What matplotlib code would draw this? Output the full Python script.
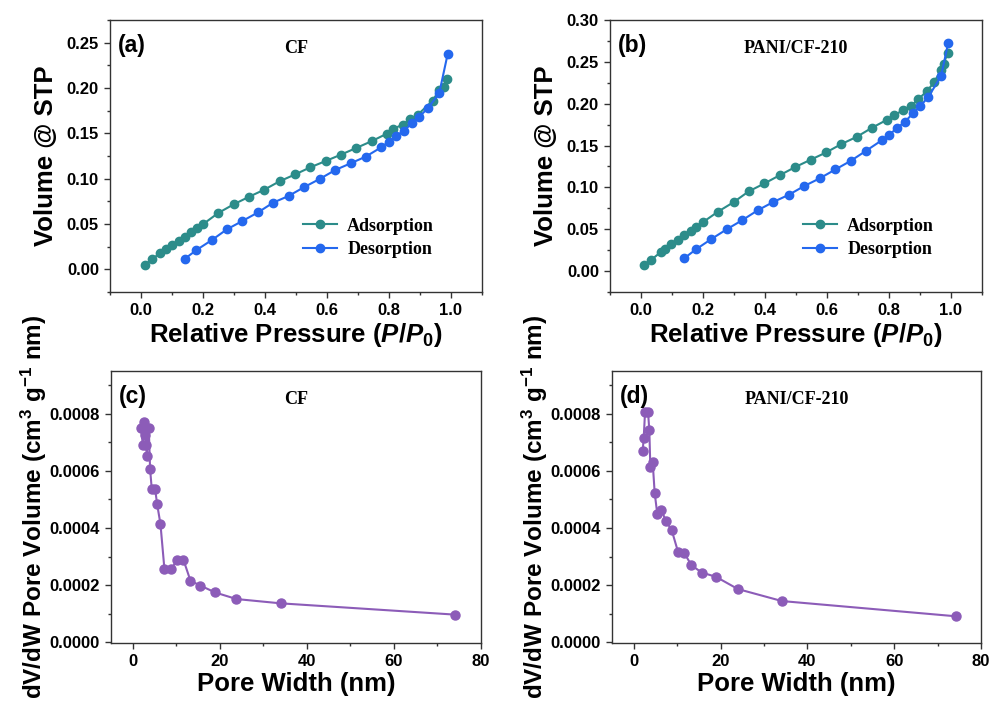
import matplotlib
matplotlib.use('Agg')
import matplotlib.pyplot as plt
from matplotlib.ticker import MultipleLocator

plt.rcParams['font.family'] = 'Liberation Sans'
plt.rcParams['font.weight'] = 'bold'
plt.rcParams['mathtext.fontset'] = 'custom'
plt.rcParams['mathtext.rm'] = 'Liberation Sans:bold'
plt.rcParams['mathtext.it'] = 'Liberation Sans:italic:bold'
plt.rcParams['mathtext.bf'] = 'Liberation Sans:bold'

# (a) CF isotherm
cf_ads_p = [0.013, 0.036, 0.061, 0.082, 0.101, 0.121, 0.142, 0.161, 0.180, 0.201,
            0.249, 0.299, 0.349, 0.398, 0.447, 0.498, 0.546, 0.596, 0.645, 0.694,
            0.745, 0.793, 0.813, 0.844, 0.868, 0.893, 0.941, 0.962, 0.976, 0.987]
cf_ads_v = [0.0048, 0.0114, 0.0176, 0.0221, 0.0265, 0.0313, 0.0357, 0.0408, 0.0460, 0.0500,
            0.0621, 0.0717, 0.0801, 0.0879, 0.0971, 0.1048, 0.1125, 0.1195, 0.1265, 0.1338,
            0.1415, 0.1496, 0.1548, 0.1596, 0.1654, 0.1706, 0.1860, 0.1978, 0.2015, 0.2103]
cf_des_p = [0.989, 0.962, 0.925, 0.898, 0.873, 0.848, 0.823, 0.799, 0.775, 0.725,
            0.676, 0.627, 0.576, 0.527, 0.476, 0.426, 0.378, 0.327, 0.277, 0.229,
            0.179, 0.142]
cf_des_v = [0.2371, 0.1941, 0.1776, 0.1684, 0.1610, 0.1526, 0.1474, 0.1408, 0.1346, 0.1243,
            0.1169, 0.1096, 0.0996, 0.0908, 0.0809, 0.0735, 0.0629, 0.0533, 0.0441, 0.0324,
            0.0213, 0.0118]

# (b) PANI/CF-210 isotherm
pani_ads_p = [0.010, 0.032, 0.065, 0.078, 0.097, 0.119, 0.139, 0.160, 0.179, 0.200,
              0.248, 0.299, 0.347, 0.398, 0.448, 0.497, 0.547, 0.597, 0.646, 0.696,
              0.745, 0.795, 0.817, 0.846, 0.872, 0.895, 0.922, 0.946, 0.968, 0.976, 0.989]
pani_ads_v = [0.0068, 0.0131, 0.0231, 0.0267, 0.0318, 0.0370, 0.0426, 0.0478, 0.0529, 0.0585,
              0.0709, 0.0824, 0.0951, 0.1047, 0.1146, 0.1242, 0.1330, 0.1417, 0.1517, 0.1604,
              0.1712, 0.1811, 0.1859, 0.1927, 0.1978, 0.2054, 0.2150, 0.2257, 0.2408, 0.2476, 0.2600]
pani_des_p = [0.991, 0.968, 0.927, 0.901, 0.877, 0.852, 0.826, 0.800, 0.776, 0.726,
              0.677, 0.627, 0.576, 0.526, 0.477, 0.426, 0.376, 0.327, 0.276, 0.225,
              0.177, 0.139]
pani_des_v = [0.2727, 0.2329, 0.2082, 0.1971, 0.1883, 0.1787, 0.1708, 0.1628, 0.1561, 0.1437,
              0.1318, 0.1214, 0.1107, 0.1015, 0.0912, 0.0824, 0.0725, 0.0609, 0.0498, 0.0378,
              0.0259, 0.0151]

# (c) CF pore size distribution
cf_w = [1.92, 2.30, 2.61, 2.75, 2.91, 3.07, 3.22, 3.68, 3.98, 4.37, 5.13, 5.59, 6.36,
        7.28, 8.81, 10.19, 11.65, 13.26, 15.56, 18.93, 23.83, 33.95, 73.95]
cf_dv = [0.000751, 0.000691, 0.000771, 0.000725, 0.000742, 0.000692, 0.000653, 0.000751,
         0.000607, 0.000535, 0.000537, 0.000484, 0.000414, 0.000255, 0.000255, 0.000288,
         0.000288, 0.000215, 0.000198, 0.000174, 0.000151, 0.000136, 0.0000965]

# (d) PANI/CF-210 pore size distribution
pani_w = [2.07, 2.30, 2.61, 3.30, 3.60, 3.83, 4.37, 4.83, 5.44, 6.37, 7.36, 8.74, 10.2,
          11.66, 13.27, 15.64, 18.94, 24.0, 34.13, 74.16]
pani_dv = [0.000670, 0.000714, 0.000806, 0.000806, 0.000742, 0.000614, 0.000631, 0.000523,
           0.000448, 0.000464, 0.000426, 0.000393, 0.000317, 0.000312, 0.000270, 0.000244,
           0.000229, 0.000186, 0.000144, 0.0000907]

ads_color = '#2C8C8A'
des_color = '#2468EE'
psd_color = '#8C5CB8'

fig = plt.figure(figsize=(9.95, 7.11), dpi=100)
W, H = 995, 711


def make_ax(left, top, right, bottom):
    return fig.add_axes([left / W, 1 - bottom / H, (right - left) / W, (bottom - top) / H])


ax_a = make_ax(110, 20, 482, 292)
ax_b = make_ax(610, 20, 982, 292)
ax_c = make_ax(111, 371, 481, 643)
ax_d = make_ax(612, 371, 981, 643)


def style(ax):
    for sp in ax.spines.values():
        sp.set_color('#333333')
        sp.set_linewidth(1.0)
    ax.tick_params(which='both', direction='out', top=False, right=False, colors='#333333',
                   labelcolor='black', labelsize=12, width=1.0)
    ax.tick_params(which='major', length=4.5, pad=3.5)
    ax.tick_params(which='minor', length=2.5)
    for lab in ax.get_xticklabels() + ax.get_yticklabels():
        lab.set_fontweight('bold')


serif = 'Liberation Serif'

for ax, ads_p, ads_v, des_p, des_v, title, tag, ytop in [
        (ax_a, cf_ads_p, cf_ads_v, cf_des_p, cf_des_v, 'CF', '(a)', 0.275),
        (ax_b, pani_ads_p, pani_ads_v, pani_des_p, pani_des_v, 'PANI/CF-210', '(b)', 0.30)]:
    ax.plot(ads_p, ads_v, '-o', color=ads_color, ms=6, lw=1.5, label='Adsorption')
    ax.plot(des_p, des_v, '-o', color=des_color, ms=6, lw=1.5, label='Desorption')
    ax.set_xlim(-0.1, 1.1)
    ax.set_ylim(-0.025, ytop)
    ax.xaxis.set_major_locator(MultipleLocator(0.2))
    ax.xaxis.set_minor_locator(MultipleLocator(0.1))
    ax.yaxis.set_major_locator(MultipleLocator(0.05))
    ax.yaxis.set_minor_locator(MultipleLocator(0.025))
    ax.set_xticks([0.0, 0.2, 0.4, 0.6, 0.8, 1.0])
    ax.set_xticklabels(['0.0', '0.2', '0.4', '0.6', '0.8', '1.0'])
    style(ax)
    ax.set_xlabel(r'Relative Pressure ($\mathit{P/P_0}$)', fontsize=18.5, fontweight='bold', labelpad=2)
    ax.set_ylabel('Volume @ STP', fontsize=18.5, fontweight='bold')
    ax.yaxis.set_label_coords(-0.14, 0.5)
    ax.text(0.5, 0.895, title, transform=ax.transAxes, ha='center', va='center',
            family=serif, fontsize=13, fontweight='bold')
    ax.text(0.022, 0.905, tag, transform=ax.transAxes, ha='left', va='center',
            fontsize=16.5, fontweight='bold')
    ax.legend(loc='lower right', bbox_to_anchor=(0.915, 0.065), frameon=False,
              prop={'family': serif, 'weight': 'bold', 'size': 13},
              handlelength=1.9, handletextpad=0.55, labelspacing=0.35)

for ax, w, dv, title, tag in [(ax_c, cf_w, cf_dv, 'CF', '(c)'),
                              (ax_d, pani_w, pani_dv, 'PANI/CF-210', '(d)')]:
    ax.plot(w, dv, '-o', color=psd_color, ms=6.5, lw=1.5)
    ax.set_xlim(-5, 80)
    ax.set_ylim(-0.000003, 0.00095)
    ax.xaxis.set_major_locator(MultipleLocator(20))
    ax.xaxis.set_minor_locator(MultipleLocator(10))
    ax.yaxis.set_major_locator(MultipleLocator(0.0002))
    ax.yaxis.set_minor_locator(MultipleLocator(0.0001))
    ax.set_yticks([0, 0.0002, 0.0004, 0.0006, 0.0008])
    ax.set_yticklabels(['0.0000', '0.0002', '0.0004', '0.0006', '0.0008'])
    style(ax)
    ax.set_xlabel('Pore Width (nm)', fontsize=18.5, fontweight='bold', labelpad=2)
    ax.set_ylabel(r'dV/dW Pore Volume (cm$^3$ g$^{-1}$ nm)', fontsize=17.5, fontweight='bold')
    ax.yaxis.set_label_coords(-0.168, 0.5)
    ax.text(0.5, 0.895, title, transform=ax.transAxes, ha='center', va='center',
            family=serif, fontsize=13, fontweight='bold')
    ax.text(0.022, 0.905, tag, transform=ax.transAxes, ha='left', va='center',
            fontsize=16.5, fontweight='bold')

plt.savefig('out.png', dpi=100)
plt.close()
